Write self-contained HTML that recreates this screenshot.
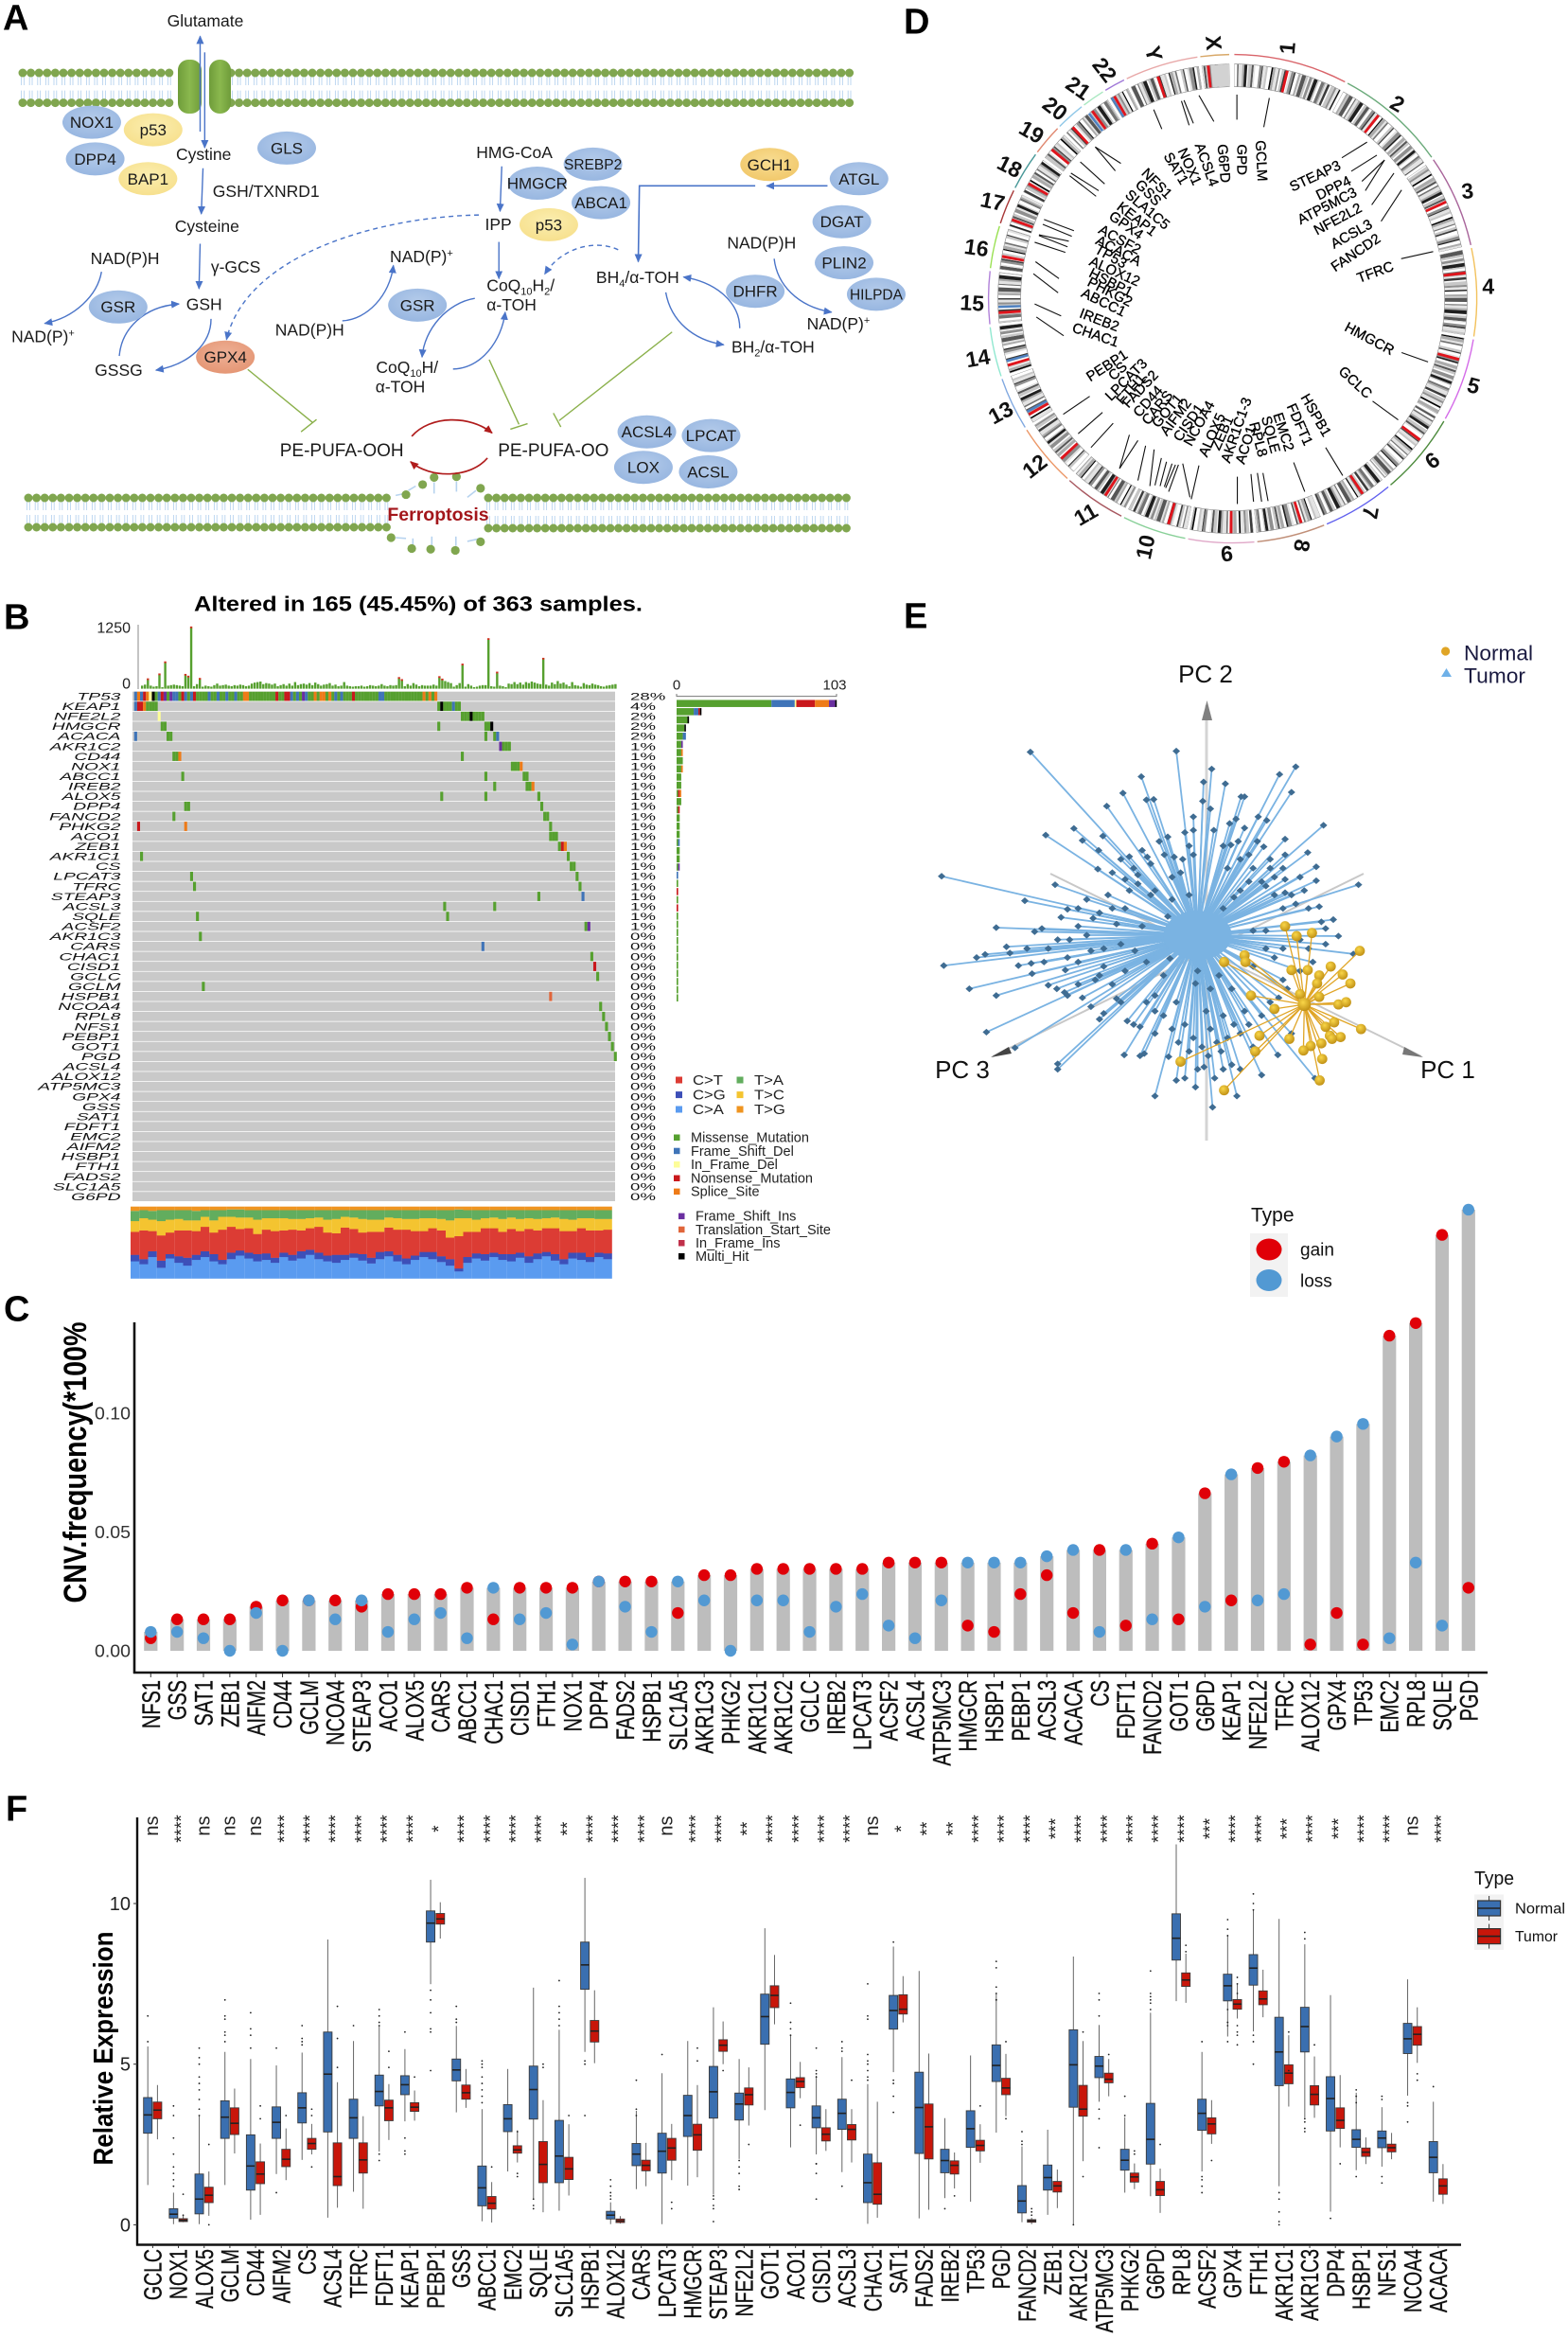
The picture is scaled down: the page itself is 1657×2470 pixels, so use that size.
<!DOCTYPE html>
<html lang="en">
<head>
<meta charset="utf-8">
<title>Ferroptosis gene multi-panel figure</title>
<style>
html,body{margin:0;padding:0;background:#fff;}
svg{display:block;font-family:"Liberation Sans",sans-serif;}
</style>
</head>
<body>
<svg id="figure" xmlns="http://www.w3.org/2000/svg" width="1657" height="2470" viewBox="0 0 1657 2470">
<defs>
<marker id="arrowBlue" markerUnits="userSpaceOnUse" markerWidth="9" markerHeight="8" refX="8" refY="4" orient="auto"><path d="M0 0L9 4L0 8Z" fill="#4a74c8"/></marker>
<marker id="arrowRed" markerUnits="userSpaceOnUse" markerWidth="9" markerHeight="8" refX="8" refY="4" orient="auto"><path d="M0 0L9 4L0 8Z" fill="#b01c1c"/></marker>
<radialGradient id="ovalBlue" cx="50%" cy="40%" r="70%"><stop offset="0" stop-color="#b4cbea"/><stop offset="1" stop-color="#93b3df"/></radialGradient>
<radialGradient id="ovalYellow" cx="50%" cy="40%" r="70%"><stop offset="0" stop-color="#fbeeb0"/><stop offset="1" stop-color="#f6de88"/></radialGradient>
<radialGradient id="ovalGold" cx="50%" cy="40%" r="70%"><stop offset="0" stop-color="#f8dd92"/><stop offset="1" stop-color="#f0c565"/></radialGradient>
<radialGradient id="ovalOrange" cx="50%" cy="40%" r="70%"><stop offset="0" stop-color="#eeb096"/><stop offset="1" stop-color="#e3926f"/></radialGradient>
<radialGradient id="goldBall" cx="40%" cy="35%" r="70%"><stop offset="0" stop-color="#f9d648"/><stop offset="1" stop-color="#bd8c12"/></radialGradient>
<linearGradient id="channelGreen" x1="0" x2="1" y1="0" y2="0"><stop offset="0" stop-color="#6f9c3a"/><stop offset=".5" stop-color="#8ab84e"/><stop offset="1" stop-color="#6f9c3a"/></linearGradient>
</defs>
<g id="panel-a"></g>
<g id="panel-b"></g>
<g id="panel-c"></g>
<g id="panel-d"></g>
<g id="panel-e"></g>
<g id="panel-f"></g>
</svg>
<script>
/* ===== Panel C data ===== */
const cnvGenes=["NFS1","GSS","SAT1","ZEB1","AIFM2","CD44","GCLM","NCOA4","STEAP3","ACO1","ALOX5","CARS","ABCC1","CHAC1","CISD1","FTH1","NOX1","DPP4","FADS2","HSPB1","SLC1A5","AKR1C3","PHKG2","AKR1C1","AKR1C2","GCLC","IREB2","LPCAT3","ACSF2","ACSL4","ATP5MC3","HMGCR","HSBP1","PEBP1","ACSL3","ACACA","CS","FDFT1","FANCD2","GOT1","G6PD","KEAP1","NFE2L2","TFRC","ALOX12","GPX4","TP53","EMC2","RPL8","SQLE","PGD"];
const cnvGainCounts=[2,5,5,5,7,8,8,8,7,9,9,9,10,5,10,10,10,11,11,11,6,12,12,13,13,13,13,13,14,14,14,4,3,9,12,6,16,4,17,5,25,8,29,30,1,6,1,50,52,66,10];
const cnvLossCounts=[3,3,2,0,6,0,8,5,8,3,5,6,2,10,5,6,1,11,7,3,11,8,0,8,8,3,7,9,4,2,8,14,14,14,15,16,3,16,5,18,7,28,8,9,31,34,36,2,14,4,70];
const cnvSampleTotal=377;
const cnvTicks=[0,0.05,0.1];
const cnvTickLabels=["0.00","0.05","0.10"];

/* ===== Panel F data: [low whisker, q1, median, q3, high whisker] ===== */
const boxGenes=["GCLC","NOX1","ALOX5","GCLM","CD44","AIFM2","CS","ACSL4","TFRC","FDFT1","KEAP1","PEBP1","GSS","ABCC1","EMC2","SQLE","SLC1A5","HSPB1","ALOX12","CARS","LPCAT3","HMGCR","STEAP3","NFE2L2","GOT1","ACO1","CISD1","ACSL3","CHAC1","SAT1","FADS2","IREB2","TP53","PGD","FANCD2","ZEB1","AKR1C2","ATP5MC3","PHKG2","G6PD","RPL8","ACSF2","GPX4","FTH1","AKR1C1","AKR1C3","DPP4","HSBP1","NFS1","NCOA4","ACACA"];
const boxSignificance=["ns","****","ns","ns","ns","****","****","****","****","****","****","*","****","****","****","****","**","****","****","****","ns","****","****","**","****","****","****","****","ns","*","**","**","****","****","****","***","****","****","****","****","****","***","****","****","***","****","***","****","****","ns","****"];
const normalStats=[[1.24,2.85,3.42,3.96,5.55],[.02,.21,.33,.5,1],[.02,.34,.8,1.58,3.38],[1.24,2.69,3.35,3.86,5.38],[.16,1.08,1.83,2.8,5.16],[1.58,2.69,3.19,3.67,4.96],[2.02,3.17,3.64,4.11,5.36],[.22,2.89,4.69,6,8.88],[1.03,2.69,3.33,3.91,5.72],[2.28,3.7,4.15,4.66,6.2],[3.22,4.05,4.36,4.64,5.47],[7.49,8.8,9.39,9.77,10.74],[3.5,4.48,4.82,5.16,6.19],[.11,.59,1.15,1.83,3.6],[1.66,2.9,3.3,3.74,4.85],[.81,3.29,4.21,4.94,7.38],[.44,1.31,2.14,3.25,6.07],[5.38,7.33,8.09,8.8,10.8],[.02,.18,.3,.42,.7],[1.11,1.84,2.2,2.53,3.55],[.02,1.61,2.29,2.85,4.72],[1.22,2.75,3.4,4.03,5.72],[.94,3.32,4.14,4.93,6.77],[2.05,3.26,3.76,4.1,5.16],[3.57,5.62,6.48,7.18,9.23],[2.41,3.64,4.12,4.54,5.9],[2.19,3.02,3.33,3.7,4.64],[1.64,2.97,3.47,3.91,5.22],[.03,.69,1.31,2.2,4.38],[4.75,6.09,6.67,7.14,8.66],[.2,2.22,3.65,4.75,7.9],[.83,1.62,2,2.35,3.32],[.72,2.41,2.99,3.55,5.27],[2.87,4.46,4.96,5.6,7.21],[.08,.37,.74,1.22,2.44],[.31,1.08,1.47,1.86,2.96],[.02,3.66,4.98,6.07,8.35],[3.83,4.58,4.94,5.24,6.22],[1,1.7,2.01,2.35,3.35],[.89,1.89,2.66,3.78,6.6],[6.96,8.24,8.92,9.68,11.84],[1.66,2.94,3.47,3.91,5.38],[5.86,6.97,7.44,7.8,9.01],[6.02,7.46,7.99,8.41,9.79],[1.2,4.33,5.38,6.46,9.52],[3.33,5.38,6.17,6.77,8.73],[.41,2.92,3.93,4.61,7.15],[1.7,2.41,2.66,2.96,4.11],[1.81,2.4,2.7,2.92,3.66],[4.02,5.33,5.79,6.27,7.64],[.72,1.62,2.1,2.59,3.83]];
const tumorStats=[[2.66,3.3,3.57,3.82,4.35],[.08,.1,.14,.19,.28],[.28,.69,.92,1.17,1.66],[2.22,2.81,3.16,3.64,4.24],[.31,1.28,1.58,1.96,2.53],[1.39,1.81,2.04,2.35,3],[2.19,2.35,2.53,2.69,3.14],[.53,1.22,1.5,2.55,4.44],[.5,1.61,2.02,2.55,3.38],[2.64,3.24,3.64,3.88,4.38],[3.24,3.53,3.66,3.8,4.18],[8.91,9.36,9.52,9.69,10.04],[3.64,3.91,4.11,4.35,4.85],[.07,.49,.67,.88,1.33],[1.94,2.23,2.33,2.46,2.94],[.39,1.31,1.88,2.59,3.88],[.91,1.41,1.74,2.1,3.13],[5.03,5.69,6.03,6.36,7.3],[.04,.07,.12,.18,.27],[1.2,1.68,1.85,2.01,2.55],[1.39,2.01,2.39,2.69,3.14],[1.48,2.32,2.8,3.13,4.35],[5,5.4,5.59,5.76,6.33],[3.09,3.73,4.05,4.26,4.9],[6.24,6.76,7.14,7.44,8.4],[3.94,4.27,4.46,4.58,5.07],[2.3,2.61,2.82,3.02,3.6],[1.94,2.64,2.97,3.12,3.6],[.22,.64,.95,1.93,3.83],[6.3,6.56,6.71,7.16,7.74],[.47,2.05,3.05,3.76,5.33],[1.13,1.58,1.85,1.99,2.25],[1.93,2.3,2.47,2.63,3.13],[3.38,4.05,4.26,4.56,5.32],[.02,.08,.12,.16,.22],[.52,1.02,1.21,1.35,1.72],[1.98,3.38,3.6,4.34,5.72],[4,4.42,4.53,4.72,5.16],[1.11,1.33,1.49,1.61,1.91],[.37,.91,1.09,1.35,1.75],[6.91,7.42,7.62,7.84,8.44],[2.52,2.83,3.14,3.33,3.88],[6.42,6.71,6.87,7.01,7.49],[6.46,6.85,7.03,7.28,7.94],[3.68,4.39,4.72,4.98,5.9],[3.33,3.73,4.06,4.33,5.24],[2.41,3,3.25,3.64,4.66],[1.89,2.13,2.26,2.39,2.72],[2.04,2.27,2.4,2.51,2.86],[5.04,5.59,5.93,6.17,6.77],[.65,.95,1.21,1.43,1.89]];
const normalOutliers=[[6.5,5.7],[3.7,3.4,2.7,2.2,1.8,1.6,1.4,1.2],[5.5,5.2,5,4.6,4.4,4.2,3.9,3.6,3.4],[7,6.5,6.4,6,5.9,5.7],[6.6,6.1,5.9,5.5],[5.5,1],[6.2,5.8,5.7,5.6],[],[6.2],[6.7,6.5,6.3,6.2,2.2,2],[6,2.7,2.3,2.2],[7.3,7,6.6,6.1,6,4.8],[6.8,6.4,6.3],[5.1,5,4.9,4.6,4.4,4.2,4,3.8],[],[.8,.6,.5],[7.6,6.8,6.6,6.4,6.2],[5.1,5,3.4],[1.4,1.2,1,.9,.8],[4.5,3.6,3.4],[5.3],[],[.9,.8,.6,.5,.1],[2,1.8,1.6,1.2,1.1],[],[6.9,6.3,6.1,5.9],[5.5,4.8,4.7,4.6,1.9,1.9,1.6,.8],[5.7,5.5,5.4,1.2],[7.5,6.5,6.4,5.3,5.1,5,4.8,4.6,4.5],[8.8,4.5,4.4,4,3.5],[],[.5],[],[8.2,8,7.4,7.2,7,7],[2.9,2.6,2.5],[],[0],[7.2,7,6.5,3.6,3.3,2.4],[4,3.4],[7.9,7.2,7.1,7,6.9,6.7],[],[5.7,1.5,1.4,1.2,1],[9.5,9.2,9,6.7,6.3,6.2,5.7],[10.3,10,9.8,5.9,5.7,5],[1,.8,.4,.1,0],[9.1,8.9,3.3,3.2,3,2.9],[.2],[4.2,4,3.8,1.5],[4,3.9,1.5,1.3],[3.8,3.7,3.2],[4.3]];
const tumorOutliers=[[],[.95,.3],[2.5,0],[],[3.7,3.3],[3.4],[3.6,3.4,1.8],[6.8,5.8,4.9],[],[5.4,4.9],[4.6],[],[],[1.8],[2.9,1.6,1.5],[5,4.9],[3.4],[],[],[],[.7,.5],[5.5,5.1],[4.8],[2.5],[],[3.1],[],[4.5],[],[],[],[.9],[3.7],[5.7,3.3],[.5,.4,.3],[],[6,1.5],[5.3],[2.3,2.2],[2.5],[8.7,8.5],[2],[7.7,7.5,7.2,6.2,6,5.9,5.6],[],[6,4.8],[5.6],[1.9],[],[],[4.7,4.5],[]];

/* ===== Panel B data ===== */
const oncoGenes=["TP53","KEAP1","NFE2L2","HMGCR","ACACA","AKR1C2","CD44","NOX1","ABCC1","IREB2","ALOX5","DPP4","FANCD2","PHKG2","ACO1","ZEB1","AKR1C1","CS","LPCAT3","TFRC","STEAP3","ACSL3","SQLE","ACSF2","AKR1C3","CARS","CHAC1","CISD1","GCLC","GCLM","HSPB1","NCOA4","RPL8","NFS1","PEBP1","GOT1","PGD","ACSL4","ALOX12","ATP5MC3","GPX4","GSS","SAT1","FDFT1","EMC2","AIFM2","HSBP1","FTH1","FADS2","SLC1A5","G6PD"];
const oncoPercents=[28,4,2,2,2,1,1,1,1,1,1,1,1,1,1,1,1,1,1,1,1,1,1,1,0,0,0,0,0,0,0,0,0,0,0,0,0,0,0,0,0,0,0,0,0,0,0,0,0,0,0];
const sampleBurden=[60,80,175,60,40,50,271,30,507,60,70,80,70,60,50,262,227,1190,50,90,183,40,60,50,40,70,100,60,70,80,60,50,70,60,80,70,50,60,100,120,130,140,90,110,100,80,100,50,70,90,60,100,60,130,70,90,100,80,110,70,120,90,60,80,90,110,60,80,50,60,130,60,50,40,50,50,60,40,50,70,60,50,60,90,60,50,70,60,70,200,160,50,90,60,110,80,50,70,60,60,60,80,60,218,170,150,130,110,40,70,110,463,40,90,60,30,40,60,70,70,961,50,40,306,60,50,30,100,90,130,90,120,80,130,110,140,120,100,90,577,80,60,120,90,150,100,120,80,50,130,70,60,40,110,80,70,100,80,70,50,40,60,70,80,90];
/* each entry: gene row, first sample index, mutation type codes */
const oncoMutations=[[0,0,"FSFNSDHMFNIMIFFMNFMFNMMMMFMMFMMFMMFMMSSMMMMMMMMMNMMNNFMFMIFMMSMSSMSMFMFMMMNMMMMMMMMFFMMMMMMMMMMMMMSMSMS"],[1,0,"FNNSMMMM"],[1,103,"MHMMMFMM"],[2,8,"D"],[2,111,"MMMHMMMM"],[3,9,"MM"],[3,103,"M"],[3,119,"MMH"],[4,0,"F"],[4,11,"MM"],[4,119,"M"],[4,122,"MF"],[5,124,"IMMM"],[6,13,"MMS"],[6,111,"M"],[7,128,"MMMS"],[8,16,"M"],[8,119,"M"],[8,132,"MM"],[9,122,"M"],[9,133,"MMS"],[10,104,"M"],[10,119,"M"],[10,137,"M"],[11,17,"MM"],[11,138,"M"],[12,13,"M"],[12,139,"MM"],[13,1,"N"],[13,17,"S"],[13,141,"M"],[14,141,"MMM"],[15,144,"MNS"],[16,2,"M"],[16,147,"M"],[17,148,"MM"],[18,19,"M"],[18,150,"M"],[19,20,"M"],[19,151,"M"],[20,137,"M"],[20,152,"F"],[21,105,"M"],[21,122,"M"],[22,21,"M"],[22,106,"M"],[23,153,"MI"],[24,22,"M"],[25,118,"F"],[26,155,"M"],[27,156,"N"],[28,157,"M"],[29,23,"M"],[30,141,"T"],[31,158,"M"],[32,159,"M"],[33,160,"M"],[34,161,"M"],[35,162,"M"],[36,163,"M"]];
const geneBarMissense=[61,11,7,5,4,3,3,4,3,3,3,1,3,1,2,2,2,1,2,2,1,0,1,0,1,0,1,1,1,1,1,1,1,1,1,1,1];
const geneBarFrameDel=[15,3,0,0,2,0,0,0,0,0,0,0,0,0,0,0,0,1,0,0,0,1,0,0,0,0,0,0,0,0,0,0,0,0,0,0,0];
const geneBarInFrameDel=[1,0,0,0,0,0,0,0,0,0,0,0,0,0,0,0,0,0,0,0,0,0,0,0,0,0,0,0,0,0,0,0,0,0,0,0,0];
const geneBarNonsense=[12,1,0,0,0,0,0,0,0,0,0,1,0,1,0,0,0,0,0,0,0,0,0,1,0,1,0,0,0,0,0,0,0,0,0,0,0];
const geneBarSplice=[9,0,0,0,0,0,1,0,1,0,0,1,0,0,0,0,0,0,0,0,0,0,0,0,0,0,0,0,0,0,0,0,0,0,0,0,0];
const geneBarFrameIns=[4,0,0,0,0,1,0,0,0,0,0,0,0,0,0,0,0,0,0,0,1,0,0,0,0,0,0,0,0,0,0,0,0,0,0,0,0];
const geneBarMultiHit=[1,1,1,1,0,0,0,0,0,0,0,0,0,0,0,0,0,0,0,0,0,0,0,0,0,0,0,0,0,0,0,0,0,0,0,0,0];
const snvCaPercent=[24,20,30,15,28,22,18,26,30,24,20,27,32,28,24,26,22,30,25,28,33,27,24,22,26,29,25,21,27,31,24,20,26,30,27,23,18,10,22,28,25,30,26,24,29,22,27,31,25,20,28,26,23,30,27];
const snvCgPercent=[9,7,8,10,6,9,11,7,8,10,6,9,7,8,10,9,7,6,8,10,7,9,8,11,7,6,9,8,10,7,9,8,6,7,10,8,9,4,8,7,9,6,8,10,7,9,8,6,9,7,8,10,7,6,8];
const snvCtPercent=[32,40,28,35,30,36,38,33,34,30,42,36,30,34,28,33,37,31,35,29,30,36,32,30,38,34,30,36,28,33,35,40,34,29,33,36,30,45,35,30,36,34,31,35,30,38,32,33,36,39,30,34,37,31,33];
const snvTcPercent=[15,17,16,20,18,16,14,15,14,17,18,14,16,15,20,16,18,17,15,16,14,13,18,20,15,16,19,17,17,14,16,15,17,18,14,16,24,25,19,17,14,15,18,16,17,15,16,14,15,17,16,14,17,16,15];
const snvTaPercent=[14,11,12,15,13,12,14,13,9,14,9,10,11,10,13,11,11,11,12,12,11,10,13,12,9,10,12,13,13,10,11,12,12,11,11,12,14,12,11,13,11,10,12,10,12,11,12,11,10,12,13,11,11,12,12];

/* ===== Panel E data: projected PC scores (horizontal, vertical) ===== */
const tumorScores=[[-392,410],[-50,412],[33,372],[230,377],[192,360],[-132,355],[14,343],[65,339],[-175,318],[220,320],[-120,303],[-103,304],[102,310],[110,310],[-213,289],[12,300],[30,283],[295,246],[142,265],[162,257],[-10,265],[38,235],[-10,235],[-290,239],[-356,224],[-270,212],[-222,222],[95,210],[78,202],[205,215],[155,198],[258,185],[-232,190],[-160,176],[-118,175],[-78,180],[-55,175],[-35,170],[205,180],[170,170],[278,153],[-234,148],[-140,135],[-170,125],[278,122],[205,125],[160,110],[-20,90],[85,85],[-334,113],[-600,132],[377,113],[-210,90],[205,95],[-140,115],[220,90],[-405,77],[-305,58],[285,64],[318,35],[-245,38],[290,30],[-70,42],[-472,17],[-365,15],[-382,8],[-190,25],[130,10],[330,-2],[-328,-10],[-250,-35],[-448,-26],[-498,-43],[-518,-50],[-595,-68],[-305,-50],[-390,-63],[-420,-68],[-147,-35],[-65,-52],[-388,-86],[-310,-78],[-220,-70],[365,-42],[-535,-120],[-472,-135],[-350,-112],[-312,-128],[-305,-135],[-270,-140],[-190,-142],[-100,-135],[-495,-217],[-220,-175],[-230,-188],[-165,-192],[-150,-200],[-135,-205],[-100,-220],[-45,-240],[-125,-265],[-172,-268],[-135,-270],[-68,-272],[-5,-108],[30,-120],[-428,-252],[-328,-288],[-328,-300],[55,-260],[-100,-360],[-50,-325],[15,-295],[0,-300],[40,-320],[80,-290],[100,-300],[35,-385],[92,-360],[150,-313],[188,-268],[275,-320],[130,-250],[100,-220],[60,-180],[20,-170],[-50,-150],[-80,-90],[0,-80],[50,-90],[130,-70],[200,-100],[180,-50],[-10,180],[-60,80],[-100,100],[60,60],[100,100],[-230,-90],[-180,-20],[-130,20],[160,10],[80,-120],[220,-220],[120,180],[140,210],[110,240],[90,260],[60,200],[75,250],[130,150],[170,150],[150,120],[180,130],[200,150],[240,130],[250,100],[230,70],[260,60],[200,60],[180,90],[120,120],[100,170],[70,150],[-20,200],[-30,230],[-40,140],[-70,220],[-90,210],[-60,130],[-110,160],[-130,190],[-150,150],[-180,170],[-200,140],[-110,90],[-160,100],[-200,60],[-260,80],[-280,60],[-230,50],[-170,60],[-320,40],[-280,20],[-300,-10],[-260,0],[-220,-30],[-350,-30],[-280,-60],[-400,-30],[-440,-40],[-360,-60],[-240,-100],[-280,-110],[-200,-110],[-330,-120],[-170,-80],[-120,-60],[-250,-160],[-180,-150],[-120,-150],[-80,-180],[-60,-210],[-100,-170],[-30,-200],[-20,-260],[-10,-230],[10,-250],[25,-270],[30,-210],[45,-240],[70,-230],[85,-200],[110,-170],[-30,-320],[-5,-340],[60,-300],[120,-200],[150,-180],[170,-150],[190,-140],[210,-120],[240,-80],[270,-60],[300,-20],[260,-30],[200,-30],[240,-10],[160,-30],[300,15]];
const normalScores=[[62,-60],[110,-45],[112,-60],[205,20],[232,-2],[268,5],[380,-35],[220,-78],[258,-78],[312,-70],[285,-90],[340,-88],[358,-108],[280,-108],[125,-135],[240,-132],[180,-165],[330,-155],[348,-150],[320,-195],[285,-138],[145,-225],[215,-232],[310,-225],[335,-228],[383,-210],[290,-242],[265,-248],[248,-258],[135,-260],[292,-277],[-40,-283],[62,-347],[286,-325],[300,-205],[315,-232]];
const tumorOrigin=[0,0];
const normalOrigin=[250,-155];

/* ===== Panel D data ===== */
const chromNames=["1","2","3","4","5","6","7","8","9","10","11","12","13","14","15","16","17","18","19","20","21","22","Y","X"];
const chromEndDeg=[27.4,54.6,77.3,98.9,119.4,139.7,157.3,174.2,190.5,206.4,221.9,237.5,250.8,263.3,276.5,287.3,296.3,306.2,314.2,321.8,327.9,333.6,351.7,359.2];
const chromColors=["#d9646a","#6aaa7a","#a8649a","#f2c15c","#d46be8","#4c8a3c","#6060ee","#c08f78","#e0a8c8","#88d098","#a85860","#ec9868","#80a8e0","#90e8d0","#b080d8","#98e050","#a83838","#489898","#e08870","#90c8e8","#a8e8c0","#a078d8","#e8a8a8","#d8a868"];
const chromRedDeg=[13.5,38.5,65.6,83.7,105,127,146.3,163,180.4,195.9,212.9,227,240.4,253.5,266.6,280.4,289.7,299.4,309.5,317,323.2,329.7,341.4,354];
const chromBlueDeg=[241.2,254.6,268,322.2,329];
const chromLabelDeg=[12.3,40.2,65.3,87.2,109.8,129,147.2,164.3,181.3,199.4,214.3,229.8,243.9,256.9,269.1,281.3,292.1,300.7,309.7,317,323.8,330.8,342.2,355.8];
const chromLabelRadius=[271,270,273,270.5,270.7,271.4,269,271,269.5,278,275.6,274,273,276.5,275.3,276,273.7,274,276,275,276,277,272,271];
const chromLabelTilt=[-85,30,-5,0,15,-35,100,100,175,-78,-30,-38,-28,-10,3,8,12,27,30,38,35,52,75,85];
const bandTones="0 5 1 3 8 0 2 6 1 0 4 7 1 2 0 9 3 1 5 0 2 7 0 1 4 8 0 3 1 6 2 0 4 1 8 2 0 5 3 1 7 0 2 4 1 9 0 3 2 6".split(" ");
const bandWidths=[.6,.4,.9,.5,.7,.3,.8,.5,.4,1,.6,.3,.7,.5,.9,.4,.6,.8,.3,.5];
const geneLinks=[[868,262,855,340],[792,253,792,320],[703,255,738,325],[668,268,690,330],[662,270,680,335],[597,293,616,345],[460,393,520,437],[460,393,507,457],[425,433,482,492],[403,463,468,510],[400,470,462,525],[340,587,410,617],[337,600,405,632],[328,628,398,645],[328,630,395,660],[318,648,390,675],[320,700,375,745],[315,732,373,783],[318,813,380,845],[322,848,386,898],[1097,380,1038,422],[1120,415,1060,458],[1138,428,1085,485],[1138,428,1093,510],[1160,463,1108,548],[1178,508,1130,592],[1252,673,1177,692],[1240,968,1178,943],[1170,1123,1110,1073],[1040,1272,1000,1197],[951,1315,925,1237],[865,1340,853,1265],[850,1342,840,1265],[831,1342,825,1268],[793,1348,793,1275],[703,1245,685,1335],[665,1240,682,1330],[655,1243,632,1315],[648,1243,625,1305],[640,1240,622,1302],[627,1235,612,1300],[615,1225,600,1298],[598,1202,588,1300],[578,1192,560,1285],[540,1163,517,1253],[560,1178,517,1253],[502,1132,450,1197],[477,1103,420,1160],[447,1060,385,1108]];
const geneLabels=[["GCLM",850,430,87],["GPD",805,427,90],["G6PD",762,437,85],["ACSL4",722,440,70],["NOX1",682,445,66],["SAT1",650,450,59],["NFS1",605,490,45],["GSS",585,515,45],["SLA1C5",583,560,40],["KEAP1",558,585,38],["GPX4",533,602,35],["ACSF2",518,640,29],["ACACA",515,670,28],["TP53",497,685,29],["ALOX12",506,725,24],["HSBP1",497,755,27],["PHKG2",495,780,27],["ABCC1",480,808,26],["IREB2",470,855,21],["CHAC1",461,895,19],["STEAP3",975,470,-25],["DPP4",1018,502,-26],["ATP5MC3",1003,550,-27],["NFE2L2",1028,585,-28],["ACSL3",1060,625,-29],["FANCD2",1070,675,-34],["TFRC",1116,727,-20],["HMGCR",1103,905,28],["GCLC",1070,1022,43],["HSPB1",978,1110,60],["FDFT1",940,1135,66],["EMC2",902,1155,72],["SQLE",872,1162,75],["RPL8",843,1175,75],["ACO1",812,1190,-72],["AKR1C1-3",790,1150,-71],["ZEB1",757,1158,-66],["ALOX5",733,1163,-66],["NCOA4",703,1132,-61],["CISD1",678,1130,-55],["AIFM2",648,1115,-53],["GOT1",628,1098,-50],["CARS",605,1090,-50],["CD44",583,1073,-48],["FADS2",565,1040,-47],["FTH1",543,1040,-47],["LPCAT3",532,1015,-45],["CS",512,992,-43],["PEBP1",487,977,-33]];

/* ===== helpers ===== */
const NS="http://www.w3.org/2000/svg";
const pA=document.getElementById('panel-a'),pB=document.getElementById('panel-b'),pC=document.getElementById('panel-c'),pD=document.getElementById('panel-d'),pE=document.getElementById('panel-e'),pF=document.getElementById('panel-f');
function add(parent,tag,attrs,name){
  const el=document.createElementNS(NS,tag);
  for(const k in attrs){el.setAttribute(k,attrs[k]);}
  
  
  parent.appendChild(el);
  return el;
}
function label(parent,x,y,str,size,name,o){
  o=o||{};
  const rot=o.rot||0,sx=o.sx||1;
  const a={'font-size':size,'fill':o.fill||'#111','text-anchor':o.anchor||'middle','transform':'translate('+x+','+y+') rotate('+rot+') scale('+sx+',1)','y':size*0.35};
  if(o.weight)a['font-weight']=o.weight;
  if(o.italic)a['font-style']='italic';
  if(o.stroke){a['stroke']=o.fill||'#111';a['stroke-width']=o.stroke;}
  if(o.len){a['textLength']=o.len;a['lengthAdjust']='spacingAndGlyphs';}
  if(o.family)a['font-family']=o.family;
  const el=add(parent,'text',a,name);
  if(o.html)el.innerHTML=str;else el.textContent=str;
  return el;
}
function panelLetter(x,y,ch){label(document.getElementById('figure'),x,y,ch,38,'panel-letter-'+ch.toLowerCase(),{weight:'bold',fill:'#000',anchor:'start'});}

/* ===== Panel A ===== */
const ax=v=>v*0.606, ay=v=>v*0.395;
function membrane(x1,x2,yT,yB,name){
  let tails='';
  for(let x=x1;x<=x2;x+=8.6){
    tails+='M'+(x-1.4)+' '+(yT+4)+'V'+(yT+13)+'M'+(x+1.4)+' '+(yT+4)+'V'+(yT+13)+'M'+(x-1.4)+' '+(yB-4)+'V'+(yB-13)+'M'+(x+1.4)+' '+(yB-4)+'V'+(yB-13);
  }
  add(pA,'path',{d:tails,stroke:'#b7d3ef','stroke-width':.9,fill:'none'},name+'-tails');
  for(let x=x1;x<=x2;x+=8.6){
    add(pA,'circle',{cx:x,cy:yT,r:4.5,fill:'#80a64f'},name+'-head');
    add(pA,'circle',{cx:x,cy:yB,r:4.5,fill:'#80a64f'},name+'-head');
  }
}
membrane(24,186,77,108.6,'upper-membrane-left');
membrane(244,898,77,108.6,'upper-membrane-right');
membrane(30,411,526,557,'lower-membrane-left');
membrane(516,897,526,558,'lower-membrane-right');
add(pA,'rect',{x:188,y:63,width:25,height:57,rx:11,fill:'url(#channelGreen)'},'transporter-left');
add(pA,'rect',{x:221,y:63,width:23,height:57,rx:11,fill:'url(#channelGreen)'},'transporter-right');
const ferroBeads=[[757,1277],[796,1275],[737,1296],[838,1306],[708,1323],[682,1438],[718,1467],[751,1469],[794,1472],[838,1449]];
const ferroTails=[[757,1290,757,1320],[796,1288,796,1315],[725,1300,712,1312],[830,1312,815,1330],[690,1325,712,1318],[690,1438,708,1440],[720,1440,720,1460],[753,1435,753,1460],[795,1435,795,1460],[815,1448,838,1440]];
ferroTails.forEach(t=>add(pA,'line',{x1:ax(t[0]),y1:ay(t[1]),x2:ax(t[2]),y2:ay(t[3]),stroke:'#b7d3ef','stroke-width':1.6},'lipid-tail-fragment'));
ferroBeads.forEach(b=>add(pA,'circle',{cx:ax(b[0]),cy:ay(b[1]),r:4.6,fill:'#80a64f'},'lipid-head-fragment'));
function flow(p,opts,name){
  let d='M'+ax(p[0])+' '+ay(p[1]);
  if(opts.cubic){d+='C'+ax(p[2])+' '+ay(p[3])+' '+ax(p[4])+' '+ay(p[5])+' '+ax(p[6])+' '+ay(p[7]);}
  else{for(let i=2;i<p.length;i+=2){d+='L'+ax(p[i])+' '+ay(p[i+1]);}}
  const a={d:d,fill:'none',stroke:opts.color||'#4a74c8','stroke-width':opts.w||1.4};
  if(opts.dash)a['stroke-dasharray']=opts.dash;
  if(opts.arrow!==false)a['marker-end']=opts.color==='#b01c1c'?'url(#arrowRed)':'url(#arrowBlue)';
  add(pA,'path',a,name);
}
flow([349,352,349,97],{},'glutamate-export-arrow');
flow([357,140,357,395],{},'cystine-import-arrow');
flow([354,450,351,572],{},'cystine-to-cysteine-arrow');
flow([349,652,347,772],{},'cysteine-to-gsh-arrow');
flow([177,727,170,790,130,850,78,865],{cubic:1},'nadph-to-nadp-arrow-left');
flow([208,952,212,880,250,820,312,813],{cubic:1},'gssg-to-gsh-arrow');
flow([368,853,368,920,330,975,272,990],{cubic:1},'gsh-to-gssg-arrow');
flow([597,858,640,855,680,790,686,710],{cubic:1},'nadph-to-nadp-arrow-middle');
flow([875,445,872,565],{},'hmgcoa-to-ipp-arrow');
flow([870,647,870,745],{},'ipp-to-coq-arrow');
flow([828,798,780,810,740,880,736,955],{cubic:1},'coqh2-to-coqh-arrow');
flow([790,987,840,985,875,910,881,835],{cubic:1},'coqh-to-coqh2-arrow');
flow([835,575,660,580,430,680,395,908],{cubic:1,dash:'5 4'},'ipp-to-gpx4-dashed-arrow');
flow([1078,668,1040,640,980,660,950,733],{cubic:1,dash:'5 4'},'bh4-to-coq-dashed-arrow');
flow([1443,497,1337,497],{w:1.6},'atgl-to-gch1-arrow');
flow([1317,497,1115,497,1113,700],{w:1.6},'gch1-to-bh4-arrow');
flow([1161,782,1170,860,1210,910,1262,922],{cubic:1},'bh4-to-bh2-arrow');
flow([1290,878,1290,810,1250,755,1192,741],{cubic:1},'bh2-to-bh4-arrow');
flow([1350,692,1355,760,1390,820,1450,835],{cubic:1},'nadph-to-nadp-arrow-right');
[[432,988,545,1130],[853,962,905,1135],[1172,888,975,1125],[525,1155,552,1122],[890,1148,920,1133],[965,1105,978,1142]].forEach(p=>flow(p,{color:'#8ab04a',arrow:false},'inhibition-line'));
flow([718,1167,750,1110,820,1110,858,1158],{cubic:1,color:'#b01c1c',w:1.7},'oxidation-arrow');
flow([850,1225,820,1280,750,1280,716,1235],{cubic:1,color:'#b01c1c',w:1.7},'reduction-arrow');
const blueOvals=[["NOX1",160,327],["DPP4",166,425],["GLS",500,396],["GSR",206,821],["GSR",728,816],["SREBP2",1034,439],["HMGCR",937,490],["ABCA1",1048,542],["ATGL",1498,478],["DGAT",1468,593],["PLIN2",1472,703],["HILPDA",1528,787],["DHFR",1317,779],["ACSL4",1128,1155],["LPCAT",1240,1165],["LOX",1122,1250],["ACSL",1235,1262]];
const yellowOvals=[["p53",267,347],["BAP1",258,478],["p53",957,601]];
function oval(o,fill){
  add(pA,'ellipse',{cx:ax(o[1]),cy:ay(o[2]),rx:31,ry:17.5,fill:fill},o[0].toLowerCase()+'-oval');
  label(pA,ax(o[1]),ay(o[2]),o[0],o[0].length>5?15.5:17,o[0].toLowerCase()+'-label',{fill:'#1a1a1a'});
}
blueOvals.forEach(o=>oval(o,'url(#ovalBlue)'));
yellowOvals.forEach(o=>oval(o,'url(#ovalYellow)'));
oval(["GCH1",1342,440],'url(#ovalGold)');
oval(["GPX4",393,955],'url(#ovalOrange)');
const pathTexts=[["Glutamate",358,55],["Cystine",355,412],["GSH/TXNRD1",464,511],["Cysteine",361,605],["γ-GCS",411,714],["NAD(P)H",218,691],["NAD(P)<tspan dy='-6' font-size='11'>+</tspan>",75,900],["GSH",356,813],["GSSG",207,990],["HMG-CoA",897,407],["IPP",869,600],["NAD(P)<tspan dy='-6' font-size='11'>+</tspan>",735,686],["NAD(P)H",540,882],["CoQ<tspan dy='4' font-size='11'>10</tspan><tspan dy='-4'>H</tspan><tspan dy='4' font-size='11'>2</tspan><tspan dy='-4'>/</tspan>",908,763],["α-TOH",892,815],["CoQ<tspan dy='4' font-size='11'>10</tspan><tspan dy='-4'>H/</tspan>",710,982],["α-TOH",698,1034],["BH<tspan dy='4' font-size='11'>4</tspan><tspan dy='-4'>/α-TOH</tspan>",1112,741],["NAD(P)H",1328,649],["NAD(P)<tspan dy='-6' font-size='11'>+</tspan>",1462,866],["BH<tspan dy='4' font-size='11'>2</tspan><tspan dy='-4'>/α-TOH</tspan>",1348,927]];
pathTexts.forEach(t=>label(pA,ax(t[1]),ay(t[2]),t[0],17.5,'metabolite-label',{html:true,fill:'#1a1a1a'}));
label(pA,ax(596),ay(1203),"PE-PUFA-OOH",19,'pe-pufa-ooh-label',{fill:'#1a1a1a'});
label(pA,ax(965),ay(1203),"PE-PUFA-OO",19,'pe-pufa-oo-label',{fill:'#1a1a1a'});
label(pA,ax(764),ay(1375),"Ferroptosis",19.5,'ferroptosis-label',{weight:'bold',fill:'#a3161b'});
panelLetter(3,18,'A');

/* ===== Panel B ===== */
const typeColors={M:'#56a02f',F:'#3f74b8',D:'#fdfd99',N:'#c9181c',S:'#ee7b18',I:'#6a2fa0',T:'#e0653a',H:'#000000'};
panelLetter(4,651,'B');
label(pB,442,638,"Altered in 165 (45.45%) of 363 samples.",22,'oncoplot-title',{weight:'bold',fill:'#000',len:474});
const burdenX=i=>149+i*3.05, burdenY=v=>727.6-v/1250*67.5;
add(pB,'line',{x1:146,y1:660,x2:146,y2:728,stroke:'#888','stroke-width':1},'burden-y-axis');
label(pB,138,663,"1250",16,'burden-tick-1250',{anchor:'end',fill:'#222'});
label(pB,138,722,"0",16,'burden-tick-0',{anchor:'end',fill:'#222'});
sampleBurden.forEach((v,i)=>{
  add(pB,'rect',{x:burdenX(i),y:burdenY(v),width:2.4,height:727.6-burdenY(v),fill:'#56a02f'},'sample-burden-bar');
  if(v>150){add(pB,'rect',{x:burdenX(i),y:burdenY(v)-1.5,width:2.4,height:1.8,fill:'#d03020'},'sample-burden-cap');}
});
const rowY=r=>735.6+r*10.57, sampleX=i=>141.8+i*3.11;
oncoGenes.forEach((g,r)=>{
  add(pB,'rect',{x:140,y:rowY(r)-4.9,width:510,height:9.8,fill:'#c9c9c9'},'oncoplot-row-'+g.toLowerCase());
  label(pB,127.5,rowY(r),g,11,'gene-label-'+g.toLowerCase(),{anchor:'end',italic:true,sx:1.75,fill:'#111'});
  label(pB,666,rowY(r),oncoPercents[r]+'%',11,'percent-label-'+g.toLowerCase(),{anchor:'start',sx:1.7,fill:'#111'});
});
oncoMutations.forEach(m=>{
  m[2].split('').forEach((c,k)=>{
    add(pB,'rect',{x:sampleX(m[1]+k),y:rowY(m[0])-4.9,width:3.11,height:9.8,fill:typeColors[c]},'mutation-cell');
  });
});
const geneBarX=v=>715+v*1.643;
add(pB,'line',{x1:715,y1:735.6,x2:884,y2:735.6,stroke:'#777','stroke-width':1},'gene-bar-axis');
add(pB,'line',{x1:715,y1:733,x2:715,y2:736,stroke:'#777','stroke-width':1},'gene-bar-tick-0');
add(pB,'line',{x1:884,y1:733,x2:884,y2:736,stroke:'#777','stroke-width':1},'gene-bar-tick-103');
label(pB,715,723,"0",15,'gene-bar-label-0',{fill:'#222'});
label(pB,882,723,"103",15,'gene-bar-label-103',{fill:'#222'});
const geneBarSeries=[[geneBarMissense,'M'],[geneBarFrameDel,'F'],[geneBarInFrameDel,'D'],[geneBarNonsense,'N'],[geneBarSplice,'S'],[geneBarFrameIns,'I'],[geneBarMultiHit,'H']];
geneBarMissense.forEach((_,r)=>{
  let c=0;
  geneBarSeries.forEach(s=>{
    if(s[0][r]>0){
      add(pB,'rect',{x:geneBarX(c),y:743.2+r*8.64-3.75,width:s[0][r]*1.643,height:7.5,fill:typeColors[s[1]]},'gene-bar-segment');
      c+=s[0][r];
    }
  });
});
const snvColors=['#5a9bf0','#3d4fb8','#dc3c34','#f4c430','#62ad5e','#ef9420'];
const stackY=p=>1350.6-p*0.759;
snvCaPercent.forEach((_,i)=>{
  const parts=[snvCaPercent[i],snvCgPercent[i],snvCtPercent[i],snvTcPercent[i],snvTaPercent[i]];
  let c=0;
  parts.forEach((p,k)=>{
    add(pB,'rect',{x:138+i*9.25,y:stackY(c+p),width:9.3,height:p*0.759+.2,fill:snvColors[k]},'snv-stack-segment');
    c+=p;
  });
  add(pB,'rect',{x:138+i*9.25,y:stackY(100),width:9.3,height:(100-c)*0.759,fill:snvColors[5]},'snv-stack-segment');
});
const snvLegend=[["C>T",717.5,1141,'#dc3c34',732],["C>G",717.5,1156.6,'#3d4fb8',732],["C>A",717.5,1172,'#5a9bf0',732],["T>A",782,1141,'#62ad5e',797],["T>C",782,1156.6,'#f4c430',797],["T>G",782,1172,'#ef9420',797]];
snvLegend.forEach(l=>{
  add(pB,'rect',{x:l[1]-3.5,y:l[2]-3.5,width:7,height:7,fill:l[3]},'legend-swatch-'+l[0].toLowerCase());
  label(pB,l[4],l[2],l[0],14.5,'legend-entry-'+l[0].toLowerCase(),{anchor:'start',sx:1.15,fill:'#222'});
});
const mutLegend=[["Missense_Mutation",'M',1201.5,712],["Frame_Shift_Del",'F',1215.7,712],["In_Frame_Del",'D',1230,712],["Nonsense_Mutation",'N',1244.5,712],["Splice_Site",'S',1258.6,712],["Frame_Shift_Ins",'I',1284.6,717],["Translation_Start_Site",'T',1298.7,717],["In_Frame_Ins",'N',1313,717],["Multi_Hit",'H',1327,717]];
mutLegend.forEach(l=>{
  add(pB,'rect',{x:l[3],y:l[2]-3,width:6.5,height:6.5,fill:l[0]==='In_Frame_Ins'?'#c0304a':typeColors[l[1]]},'legend-swatch-'+l[0].toLowerCase());
  label(pB,l[3]+18,l[2],l[0],14.5,'legend-entry-'+l[0].toLowerCase(),{anchor:'start',fill:'#222'});
});

/* ===== Panel C ===== */
panelLetter(4,1382,'C');
const cX=i=>159.3+i*27.85, cY=v=>1744-v*2510;
add(pC,'line',{x1:142,y1:1397,x2:142,y2:1768,stroke:'#111','stroke-width':2.6},'cnv-y-axis');
add(pC,'line',{x1:141,y1:1767,x2:1572,y2:1767,stroke:'#111','stroke-width':2.6},'cnv-x-axis');
cnvTicks.forEach((t,i)=>{
  label(pC,138,cY(t),cnvTickLabels[i],18,'cnv-y-tick-label',{anchor:'end',fill:'#333',len:38});
});
label(pC,79,1545,"CNV.frequency(*100%",34,'cnv-y-axis-title',{rot:-90,weight:'bold',fill:'#000',len:297});
cnvGenes.forEach((g,i)=>{
  const gain=cnvGainCounts[i]/cnvSampleTotal, loss=cnvLossCounts[i]/cnvSampleTotal, top=Math.max(gain,loss);
  add(pC,'rect',{x:cX(i)-7.1,y:cY(top),width:14.2,height:1744-cY(top),fill:'#bdbdbd'},'cnv-bar-'+g.toLowerCase());
  add(pC,'circle',{cx:cX(i),cy:cY(gain),r:6.2,fill:'#e00008'},'cnv-gain-dot-'+g.toLowerCase());
  add(pC,'circle',{cx:cX(i),cy:cY(loss),r:6.2,fill:'#5299d3'},'cnv-loss-dot-'+g.toLowerCase());
  add(pC,'line',{x1:cX(i),y1:1768,x2:cX(i),y2:1772,stroke:'#333','stroke-width':1},'cnv-x-tick');
  label(pC,cX(i),1775,g,27,'cnv-x-label-'+g.toLowerCase(),{rot:-90,anchor:'end',sx:.74,fill:'#111',stroke:.35});
});
label(pC,1322,1283,"Type",21,'cnv-legend-title',{anchor:'start',fill:'#111'});
add(pC,'rect',{x:1321,y:1303,width:40,height:67,fill:'#f2f2f2'},'cnv-legend-key-background');
add(pC,'ellipse',{cx:1341,cy:1320,rx:13.5,ry:11.5,fill:'#e00008'},'cnv-legend-gain-swatch');
add(pC,'ellipse',{cx:1341,cy:1352.5,rx:13.5,ry:11.5,fill:'#5299d3'},'cnv-legend-loss-swatch');
label(pC,1374,1320,"gain",19,'cnv-legend-gain-label',{anchor:'start',fill:'#111'});
label(pC,1374,1353,"loss",19,'cnv-legend-loss-label',{anchor:'start',fill:'#111'});

/* ===== Panel D ===== */
panelLetter(955,22,'D');
const dCx=1302.6,dCy=315.6;
const dX=v=>950+v*0.4509, dY=v=>v*0.395;
function polar(r,deg){const t=deg*Math.PI/180;return [dCx+r*Math.sin(t),dCy-r*Math.cos(t)];}
function arcPath(r,a,b){const p=polar(r,a),q=polar(r,b);return 'M'+p[0].toFixed(2)+' '+p[1].toFixed(2)+'A'+r+' '+r+' 0 '+((b-a)>180?1:0)+' 1 '+q[0].toFixed(2)+' '+q[1].toFixed(2);}
let bandIdx=0,widthIdx=0;
chromNames.forEach((c,i)=>{
  const a=i===0?0.4:chromEndDeg[i-1]+0.7, b=chromEndDeg[i];
  add(pD,'path',{d:arcPath(258,a,b),fill:'none',stroke:chromColors[i],'stroke-width':1.4},'chromosome-arc-'+c.toLowerCase());
  const pos=polar(chromLabelRadius[i],chromLabelDeg[i]);
  label(pD,pos[0],pos[1],c,23,'chromosome-label-'+c.toLowerCase(),{rot:chromLabelTilt[i],weight:'bold',fill:'#111'});
  add(pD,'path',{d:arcPath(236,a,b),fill:'none',stroke:'#808080','stroke-width':24.6},'chromosome-outline-'+c.toLowerCase());
  add(pD,'path',{d:arcPath(236,a+.08,b-.08),fill:'none',stroke:'#ffffff','stroke-width':23.4},'chromosome-body-'+c.toLowerCase());
  let pos2=a+.1;
  while(pos2<b-.1){
    const w=Math.min(bandWidths[widthIdx++%bandWidths.length],b-.1-pos2);
    const tone=+bandTones[bandIdx++%bandTones.length];
    const shade=Math.round(255-tone*28);
    if(tone>0){add(pD,'path',{d:arcPath(236,pos2,pos2+w),fill:'none',stroke:'rgb('+shade+','+shade+','+shade+')','stroke-width':23.4},'chromosome-band');}
    pos2+=w;
  }
  add(pD,'path',{d:arcPath(236,chromRedDeg[i]-.35,chromRedDeg[i]+.35),fill:'none',stroke:'#e0141c','stroke-width':23.4},'centromere-band-'+c.toLowerCase());
});
add(pD,'path',{d:arcPath(236,354.6,359.1),fill:'none',stroke:'#d2d2d2','stroke-width':23.4},'chromosome-x-gray-region');
chromBlueDeg.forEach(d=>add(pD,'path',{d:arcPath(236,d-.3,d+.3),fill:'none',stroke:'#4f82c2','stroke-width':23.4},'blue-band'));
geneLinks.forEach(l=>add(pD,'line',{x1:dX(l[0]),y1:dY(l[1]),x2:dX(l[2]),y2:dY(l[3]),stroke:'#111','stroke-width':1.1},'gene-link-line'));
geneLabels.forEach(g=>label(pD,dX(g[1]),dY(g[2]),g[0],15,'gene-label-'+g[0].toLowerCase(),{rot:g[3],fill:'#000',stroke:.3}));

/* ===== Panel E ===== */
panelLetter(955,650,'E');
const eX=v=>1265.6+v*0.4509, eY=v=>988-v*0.472;
add(pE,'line',{x1:1275,y1:1205,x2:1275,y2:745,stroke:'#d4d4d4','stroke-width':3},'pc2-axis');
add(pE,'polygon',{points:'1275.5,740 1281,761 1270,761',fill:'#808080'},'pc2-arrowhead');
add(pE,'line',{x1:1441,y1:923,x2:1049,y2:1116,stroke:'#c8c8c8','stroke-width':2},'pc3-axis');
add(pE,'polygon',{points:'1047,1117 1066,1106 1069,1113',fill:'#444'},'pc3-arrowhead');
add(pE,'line',{x1:1110,y1:923,x2:1502,y2:1116,stroke:'#c8c8c8','stroke-width':2},'pc1-axis');
add(pE,'polygon',{points:'1504,1117 1484,1106 1482,1114',fill:'#777'},'pc1-arrowhead');
tumorScores.forEach(p=>add(pE,'line',{x1:eX(tumorOrigin[0]),y1:eY(tumorOrigin[1]),x2:eX(p[0]),y2:eY(p[1]),stroke:'#7ab3e2','stroke-width':1.8},'tumor-sample-stem'));
add(pE,'ellipse',{cx:eX(0),cy:eY(0),rx:36,ry:26,fill:'#7ab3e2'},'tumor-origin-hub');
tumorScores.forEach(p=>{
  const x=eX(p[0]),y=eY(p[1]);
  add(pE,'polygon',{points:(x+4)+','+y+' '+x+','+(y-3.6)+' '+(x-4)+','+y+' '+x+','+(y+3.6),fill:'#3f6c92'},'tumor-sample-point');
});
normalScores.forEach(p=>add(pE,'line',{x1:eX(normalOrigin[0]),y1:eY(normalOrigin[1]),x2:eX(p[0]),y2:eY(p[1]),stroke:'#e0a526','stroke-width':1.3},'normal-sample-stem'));
normalScores.forEach(p=>add(pE,'circle',{cx:eX(p[0]),cy:eY(p[1]),r:5.4,fill:'url(#goldBall)'},'normal-sample-point'));
add(pE,'circle',{cx:eX(normalOrigin[0]),cy:eY(normalOrigin[1]),r:7,fill:'url(#goldBall)'},'normal-origin-hub');
label(pE,1274,712,"PC 2",26,'pc2-label',{fill:'#111'});
label(pE,1017,1130,"PC 3",26,'pc3-label',{fill:'#111'});
label(pE,1530,1130,"PC 1",26,'pc1-label',{fill:'#111'});
add(pE,'circle',{cx:1527.6,cy:688,r:4.6,fill:'#e0a526'},'pca-legend-normal-marker');
add(pE,'polygon',{points:'1528.5,706 1534,715 1523,715',fill:'#6fb1e8'},'pca-legend-tumor-marker');
label(pE,1547,690,"Normal",22,'pca-legend-normal-label',{anchor:'start',fill:'#1a1a40',len:73});
label(pE,1547,714,"Tumor",22,'pca-legend-tumor-label',{anchor:'start',fill:'#1a1a40',len:65});

/* ===== Panel F ===== */
panelLetter(6,1910,'F');
const fX=i=>161.4+i*27.17, fY=v=>2350.4-v*33.94;
add(pF,'line',{x1:145,y1:1920,x2:145,y2:2372.5,stroke:'#111','stroke-width':2.4},'expression-y-axis');
add(pF,'line',{x1:144,y1:2371.5,x2:1544,y2:2371.5,stroke:'#111','stroke-width':2.4},'expression-x-axis');
const fTicks=[0,5,10];
fTicks.forEach(t=>{
  add(pF,'line',{x1:141,y1:fY(t),x2:145,y2:fY(t),stroke:'#333','stroke-width':1},'expression-y-tick');
  label(pF,138,fY(t),String(t),20,'expression-y-tick-label',{anchor:'end',fill:'#222'});
});
label(pF,109,2164,"Relative Expression",29,'expression-y-axis-title',{rot:-90,weight:'bold',fill:'#000',len:247});
function box(x,s,fill,w,name){
  add(pF,'line',{x1:x,y1:fY(s[0]),x2:x,y2:fY(s[4]),stroke:'#666','stroke-width':1},name+'-whisker');
  add(pF,'rect',{x:x-w/2,y:fY(s[3]),width:w,height:fY(s[1])-fY(s[3]),fill:fill,stroke:'#3a3a3a','stroke-width':.9},name+'-box');
  add(pF,'line',{x1:x-w/2,y1:fY(s[2]),x2:x+w/2,y2:fY(s[2]),stroke:'#222','stroke-width':1.6},name+'-median');
}
boxGenes.forEach((g,i)=>{
  const x=fX(i),xn=x-5.2,xt=x+5;
  box(xn,normalStats[i],'#3a6fb0',9,'normal-'+g.toLowerCase());
  box(xt,tumorStats[i],'#c8160a',9,'tumor-'+g.toLowerCase());
  (normalOutliers[i]||[]).forEach(v=>add(pF,'circle',{cx:xn,cy:fY(v),r:.9,fill:'#222'},'normal-outlier'));
  (tumorOutliers[i]||[]).forEach(v=>add(pF,'circle',{cx:xt,cy:fY(v),r:.9,fill:'#222'},'tumor-outlier'));
  add(pF,'line',{x1:x,y1:2372,x2:x,y2:2375,stroke:'#333','stroke-width':1},'expression-x-tick');
  label(pF,x,2376,g,26,'expression-x-label-'+g.toLowerCase(),{rot:-90,anchor:'end',sx:.75,fill:'#111',stroke:.35});
  const sig=boxSignificance[i];
  if(sig==='ns'){label(pF,x+4-5.2,1929,sig,20,'significance-label',{rot:-90,fill:'#222'});}
  else{label(pF,x+3,1932,sig,19,'significance-label',{rot:-90,fill:'#222'});}
});
label(pF,1558,1984,"Type",20,'expression-legend-title',{anchor:'start',fill:'#111',len:42});
add(pF,'rect',{x:1558,y:2001.5,width:31,height:58.5,fill:'#f2f2f2'},'expression-legend-key-background');
const fLegend=[["Normal",2016,'#3a6fb0'],["Tumor",2045.6,'#c8160a']];
fLegend.forEach(l=>{
  add(pF,'line',{x1:1573.6,y1:l[1]-13,x2:1573.6,y2:l[1]+13,stroke:'#333','stroke-width':1},'expression-legend-whisker');
  add(pF,'rect',{x:1561.6,y:l[1]-8,width:24,height:16,fill:l[2],stroke:'#333','stroke-width':1.2},'expression-legend-swatch-'+l[0].toLowerCase());
  add(pF,'line',{x1:1561.6,y1:l[1],x2:1585.6,y2:l[1],stroke:'#222','stroke-width':1.6},'expression-legend-median');
  label(pF,1601,l[1],l[0],15.5,'expression-legend-label-'+l[0].toLowerCase(),{anchor:'start',fill:'#111',len:l[0]==='Normal'?53:45});
});
</script>
</body>
</html>
